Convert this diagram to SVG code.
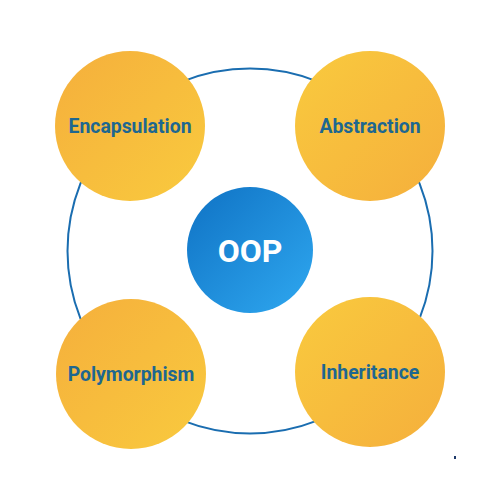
<svg xmlns="http://www.w3.org/2000/svg" width="500" height="500" viewBox="0 0 500 500">
  <defs>
    <linearGradient id="gOrangeToYellow" x1="0" y1="0" x2="1" y2="1">
      <stop offset="0" stop-color="#F5AF3C"/>
      <stop offset="1" stop-color="#F9CA3E"/>
    </linearGradient>
    <linearGradient id="gYellowToOrange" x1="0" y1="0" x2="1" y2="1">
      <stop offset="0" stop-color="#F9CA3E"/>
      <stop offset="1" stop-color="#F5AF3C"/>
    </linearGradient>
    <linearGradient id="gBlue" x1="0" y1="0" x2="1" y2="1">
      <stop offset="0" stop-color="#0F72C4"/>
      <stop offset="1" stop-color="#2FA8F0"/>
    </linearGradient>
  </defs>
  <style>
    .ring { fill: none; stroke: #1A6DB0; stroke-width: 2; }
    .label { font-family: Roboto, "Liberation Sans", sans-serif; font-weight: bold; font-size: 19.4px; fill: #1E6790; text-anchor: middle; }
    .center-label { font-family: Roboto, "Liberation Sans", sans-serif; font-weight: bold; font-size: 32px; fill: #FFFFFF; text-anchor: middle; }
  </style>
  <g id="connectors">
    <circle class="ring" cx="250" cy="251" r="182.5"/>
  </g>
  <g id="oop">
    <circle cx="250" cy="250" r="63" fill="url(#gBlue)"/>
    <text class="center-label" x="250" y="262">OOP</text>
  </g>
  <g id="encapsulation">
    <circle cx="130" cy="126" r="75" fill="url(#gOrangeToYellow)"/>
    <text class="label" x="130" y="133">Encapsulation</text>
  </g>
  <g id="abstraction">
    <circle cx="370" cy="126" r="75" fill="url(#gYellowToOrange)"/>
    <text class="label" x="370" y="133">Abstraction</text>
  </g>
  <g id="polymorphism">
    <circle cx="131" cy="374" r="75" fill="url(#gOrangeToYellow)"/>
    <text class="label" x="131" y="381">Polymorphism</text>
  </g>
  <g id="inheritance">
    <circle cx="370" cy="372" r="75" fill="url(#gYellowToOrange)"/>
    <text class="label" x="370" y="379">Inheritance</text>
  </g>
  <rect x="454" y="456" width="2" height="3" fill="#1E3A6A"/>
</svg>
